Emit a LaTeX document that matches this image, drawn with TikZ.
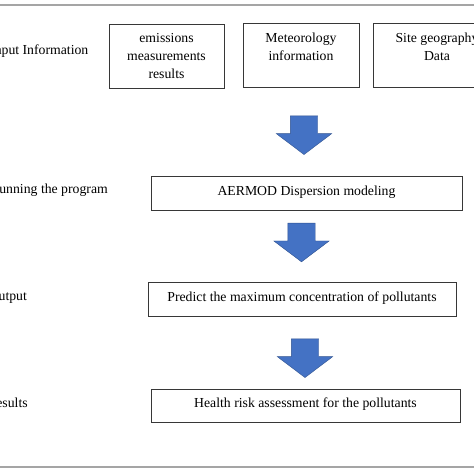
\documentclass[tikz,border=0pt]{standalone}
\usepackage{fontspec}
\setmainfont{Liberation Serif}
\usetikzlibrary{shapes.arrows,positioning}
\definecolor{arrowblue}{RGB}{68,114,196}
\definecolor{arrowedge}{RGB}{47,82,143}
\definecolor{rulegray}{RGB}{165,165,165}
\definecolor{boxgray}{RGB}{55,55,55}

\begin{document}
\begin{tikzpicture}[
        x=1pt, y=-1pt,
        every node/.style={font=\fontsize{13.75}{18}\selectfont},
        infobox/.style={draw=boxgray, line width=0.8pt, minimum height=64pt, inner sep=0pt},
        stepbox/.style={draw=boxgray, line width=0.8pt, minimum height=34pt, inner sep=0pt, text height=7pt, text depth=3pt},
        boxtext/.style={align=center, inner sep=0pt, anchor=north},
        sidelabel/.style={anchor=base west, inner sep=0pt},
        downarrow/.style={single arrow, rotate=-90, fill=arrowblue, draw=arrowedge, line width=0.4pt,
            inner sep=0pt, text height=27pt, text depth=0pt, text width=28pt,
            single arrow head extend=14pt, single arrow tip angle=106},
        rule/.style={draw=rulegray, line width=1.4pt}
    ]
        \useasboundingbox (0,0) rectangle (474,474);
        \clip (0,0) rectangle (474,474);

        % Frame lines
        \draw[rule] (-2,5) -- (476,5);
        \draw[rule] (-2,467) -- (476,467);

        % Side labels
        \node[sidelabel] (lblinput) at (-10,54) {Input Information};
        \node[sidelabel] (lblrun) at (-10,193.5) {Running the program};
        \node[sidelabel] (lbloutput) at (-11.5,300.5) {Output};
        \node[sidelabel] (lblresults) at (-13,407) {Results};

        % Input boxes
        \node[infobox, minimum width=115pt] (emis) at (166.5,56) {};
        \node[boxtext] (emistxt) at ([yshift=-10pt]emis.north) {emissions\\measurements\\results};

        \node[infobox, minimum width=116pt] (meteo) at (301,55) {};
        \node[boxtext] (meteotxt) at ([yshift=-10pt]meteo.north) {Meteorology\\information};

        \node[infobox, minimum width=128pt] (site) at (437,55) {};
        \node[boxtext] (sitetxt) at ([yshift=-10pt]site.north) {Site geography\\Data};

        % Arrows
        \node[downarrow] (arrA) at (304,130) {};
        \node[downarrow] (arrB) at (301.5,237.3) {};
        \node[downarrow] (arrC) at (305,353) {};

        % Steps
        \node[stepbox, minimum width=311pt] (aermod) at (306.5,193) {AERMOD Dispersion modeling};
        \node[stepbox, minimum width=308pt] (predict) at (302,299) {Predict the maximum concentration of pollutants};
        \node[stepbox, minimum width=309pt, minimum height=33pt] (health) at (305.5,405.5) {Health risk assessment for the pollutants};

    \end{tikzpicture}
\end{document}
